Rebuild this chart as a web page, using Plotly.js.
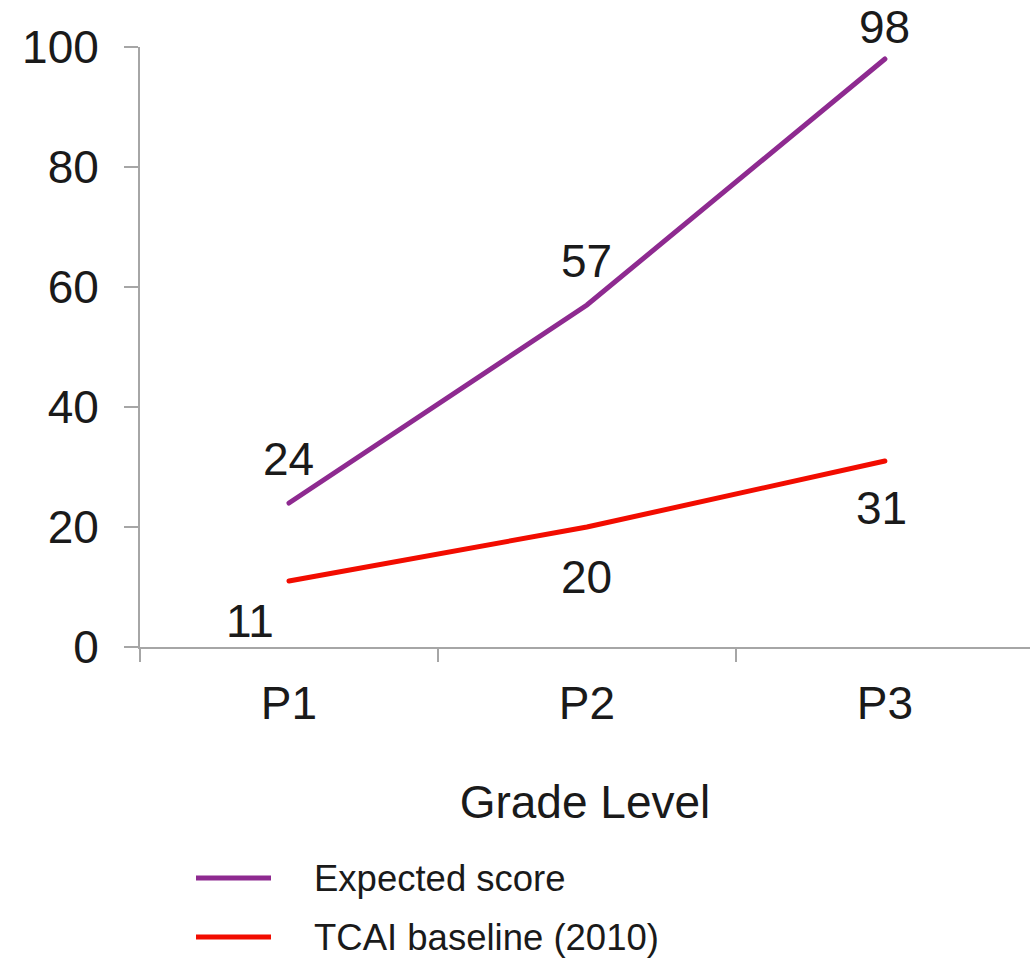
<!DOCTYPE html>
<html>
<head>
<meta charset="utf-8">
<script src="https://cdn.plot.ly/plotly-3.0.1.min.js"></script>
<style>
  html, body { margin: 0; padding: 0; background: #ffffff; }
  #chart { width: 1030px; height: 965px; }
  #chart .scatterlayer path.js-line { stroke-linecap: round; }
</style>
</head>
<body>
<div id="chart"></div>
<script>
// Grade levels on the x axis
const grades = ["P1", "P2", "P3"];

// Series values
const expectedScore = [24, 57, 98];
const baseline2010 = [11, 20, 31];

// Series names and colours
const seriesNames = ["Expected score", "TCAI baseline (2010)"];
const seriesColors = ["#8E2A90", "#F20C00"];

// Value label offsets (pixels) for each series / point
const labelShiftX = [[0, 0, 0], [-39, 0, -3]];
const labelShiftY = [[44, 44, 32], [-40, -50, -47]];

const axisFont = { family: "Liberation Sans, Arial, sans-serif", size: 46, color: "#1a1a1a" };
const legendFont = { family: "Liberation Sans, Arial, sans-serif", size: 36.5, color: "#1a1a1a" };
const gridGrey = "#a6a6a6";

// Plot area geometry in pixels, used to place the legend rows below the axis
const plotLeft = 140, plotTop = 47, plotW = 890, plotH = 600;
const toPaperX = px => (px - plotLeft) / plotW;
const toPaperY = py => (plotTop + plotH - py) / plotH;

const allSeries = [expectedScore, baseline2010];

const traces = allSeries.map((vals, i) => ({
  type: "scatter",
  mode: "lines",
  x: grades,
  y: vals,
  name: seriesNames[i],
  line: { color: seriesColors[i], width: 5 },
  hoverinfo: "skip",
  showlegend: false
}));

// Value labels beside each point
const annotations = [];
allSeries.forEach((vals, i) => {
  vals.forEach((v, j) => {
    annotations.push({
      x: grades[j], y: v, xref: "x", yref: "y",
      text: String(v), showarrow: false,
      xshift: labelShiftX[i][j], yshift: labelShiftY[i][j],
      font: axisFont
    });
  });
});

// Legend keys drawn below the axis title
const legendRowsY = [878, 937];
const shapes = [];
seriesNames.forEach((name, i) => {
  const yp = toPaperY(legendRowsY[i]);
  shapes.push({
    type: "line", xref: "paper", yref: "paper",
    x0: toPaperX(196), x1: toPaperX(271), y0: yp, y1: yp,
    line: { color: seriesColors[i], width: 5 }
  });
  annotations.push({
    xref: "paper", yref: "paper",
    x: toPaperX(312), y: yp, xanchor: "left", yanchor: "middle",
    text: name, showarrow: false, font: legendFont
  });
});

const layout = {
  width: 1030,
  height: 965,
  margin: { l: plotLeft, r: 1030 - plotLeft - plotW, t: plotTop, b: 965 - plotTop - plotH },
  paper_bgcolor: "#ffffff",
  plot_bgcolor: "#ffffff",
  showlegend: false,
  font: axisFont,
  xaxis: {
    type: "category",
    range: [-0.5, 2.487],
    showgrid: false,
    zeroline: false,
    showline: true,
    linecolor: gridGrey,
    linewidth: 2,
    ticks: "outside",
    tickson: "boundaries",
    ticklen: 13,
    tickwidth: 2,
    tickcolor: gridGrey,
    tickfont: axisFont,
    ticklabelstandoff: 15,
    title: { text: "Grade Level", font: axisFont, standoff: 58 },
    fixedrange: true
  },
  yaxis: {
    range: [0, 100],
    tickvals: [0, 20, 40, 60, 80, 100],
    showgrid: false,
    zeroline: false,
    showline: true,
    linecolor: gridGrey,
    linewidth: 2,
    ticks: "outside",
    ticklen: 14,
    tickwidth: 2,
    tickcolor: gridGrey,
    tickfont: axisFont,
    ticklabelstandoff: 16,
    fixedrange: true
  },
  annotations: annotations,
  shapes: shapes
};

Plotly.newPlot("chart", traces, layout, { staticPlot: true, displayModeBar: false });
</script>
</body>
</html>
